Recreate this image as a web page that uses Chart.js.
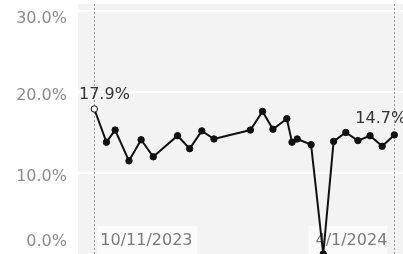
<!DOCTYPE html>
<html>
<head>
<meta charset="utf-8">
<script src="https://cdn.jsdelivr.net/npm/chart.js@4/dist/chart.umd.min.js"></script>
<style>
html, body { margin: 0; padding: 0; background: #fff; }
#wrap { width: 403px; height: 254px; }
</style>
</head>
<body>
<div id="wrap"><canvas id="lineChart"></canvas></div>
<script>
// data
const dates = [
    '2023-10-11', '2023-10-18', '2023-10-23', '2023-10-31', '2023-11-07', '2023-11-14',
    '2023-11-28', '2023-12-05', '2023-12-12', '2023-12-19', '2024-01-09', '2024-01-16',
    '2024-01-22', '2024-01-30', '2024-02-02', '2024-02-05', '2024-02-13', '2024-02-20',
    '2024-02-26', '2024-03-04', '2024-03-11', '2024-03-18', '2024-03-25', '2024-04-01'
];
const rates = [
    17.9, 13.8, 15.3, 11.5, 14.1, 12.0,
    14.6, 13.0, 15.2, 14.2, 15.3, 17.6,
    15.4, 16.7, 13.8, 14.2, 13.5, 0.0,
    13.9, 15.0, 14.0, 14.6, 13.3, 14.7
];
const yTicks = [0, 10, 20, 30];

const FONT = '16px "DejaVu Sans"';
const DAY = 86400000;
const t0 = Date.parse(dates[0]);
const days = dates.map(d => Math.round((Date.parse(d) - t0) / DAY));
const points = days.map((d, i) => ({ x: d, y: rates[i] }));

function fmtDate(iso) {
    const [y, m, d] = iso.split('-').map(Number);
    return `${m}/${d}/${y}`;
}
const pct = v => v.toFixed(1) + '%';

// ========== Plugins ==========

const backdrop = {
    id: 'backdrop',
    beforeDraw(chart) {
        const { ctx, chartArea: a } = chart;
        ctx.save();
        ctx.fillStyle = '#f3f3f3';
        ctx.fillRect(a.left, a.top, a.right - a.left, a.bottom - a.top);
        ctx.restore();
    }
};

const yLabels = {
    id: 'yLabels',
    afterDraw(chart) {
        const { ctx } = chart;
        const y = chart.scales.y;
        ctx.save();
        ctx.font = FONT;
        ctx.fillStyle = '#8c8c8c';
        ctx.textAlign = 'right';
        ctx.textBaseline = 'middle';
        y.ticks.forEach(t => {
            const py = Math.max(19, Math.min(242, y.getPixelForValue(t.value) + 4));
            ctx.fillText(pct(t.value), 67, py);
        });
        ctx.restore();
    }
};

const dateMarks = {
    id: 'dateMarks',
    beforeDatasetsDraw(chart) {
        const { ctx, chartArea: a } = chart;
        const x = chart.scales.x;
        const first = x.getPixelForValue(days[0]);
        const last = x.getPixelForValue(days[days.length - 1]);
        ctx.save();
        ctx.strokeStyle = '#999';
        ctx.lineWidth = 1;
        ctx.setLineDash([2, 2]);
        [first, last].forEach(px => {
            ctx.beginPath();
            ctx.moveTo(Math.round(px) + 0.5, a.top);
            ctx.lineTo(Math.round(px) + 0.5, a.bottom);
            ctx.stroke();
        });
        ctx.setLineDash([]);
        ctx.font = FONT;
        ctx.textBaseline = 'middle';
        const t1 = fmtDate(dates[0]);
        const t2 = fmtDate(dates[dates.length - 1]);
        const w1 = ctx.measureText(t1).width;
        const w2 = ctx.measureText(t2).width;
        ctx.fillStyle = 'rgba(252,252,252,0.85)';
        ctx.fillRect(first + 3, 226, w1 + 8, a.bottom - 226);
        ctx.fillRect(last - 10 - w2 - 4, 226, w2 + 7, a.bottom - 226);
        ctx.fillStyle = '#7a7a7a';
        ctx.textAlign = 'left';
        ctx.fillText(t1, first + 6, 241);
        ctx.textAlign = 'right';
        ctx.fillText(t2, last - 7, 241);
        ctx.restore();
    }
};

const endLabels = {
    id: 'endLabels',
    afterDatasetsDraw(chart) {
        const { ctx, chartArea: a } = chart;
        const meta = chart.getDatasetMeta(0).data;
        const p0 = meta[0];
        const pN = meta[meta.length - 1];
        ctx.save();
        ctx.font = FONT;
        ctx.fillStyle = '#333';
        ctx.textBaseline = 'middle';
        ctx.textAlign = 'left';
        ctx.fillText(pct(rates[0]), a.left + 1, p0.y - 14);
        ctx.fillText(pct(rates[rates.length - 1]), pN.x - 39, pN.y - 16);
        ctx.restore();
    }
};

// ========== Chart ==========

new Chart(document.getElementById('lineChart'), {
    type: 'line',
    data: {
        datasets: [{
            data: points,
            borderColor: '#111',
            borderWidth: 2,
            pointRadius: 3.2,
            pointBorderWidth: 1,
            pointBorderColor: '#111',
            pointBackgroundColor: rates.map((_, i) => i === 0 ? '#fff' : '#111'),
            tension: 0
        }]
    },
    options: {
        animation: false,
        responsive: true,
        maintainAspectRatio: false,
        layout: { autoPadding: false, padding: { left: 78, top: 4, right: 0, bottom: 0 } },
        scales: {
            x: {
                type: 'linear',
                min: -9.4,
                max: 178,
                display: false
            },
            y: {
                min: 0,
                max: 30.86,
                afterBuildTicks: s => { s.ticks = yTicks.map(v => ({ value: v })); },
                ticks: { display: false },
                border: { display: false },
                grid: {
                    drawTicks: false,
                    lineWidth: 2,
                    color: c => c.tick && c.tick.value === 0 ? 'transparent' : '#fff'
                }
            }
        },
        plugins: {
            legend: { display: false },
            tooltip: { enabled: false }
        }
    },
    plugins: [backdrop, yLabels, dateMarks, endLabels]
});
</script>
</body>
</html>
